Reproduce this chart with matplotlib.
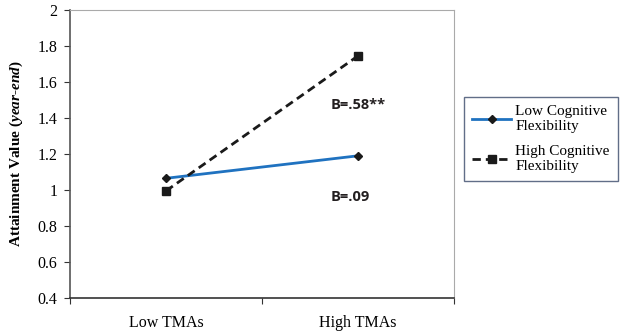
import matplotlib
matplotlib.use('Agg')
import matplotlib.pyplot as plt
from matplotlib.ticker import FuncFormatter

# data
categories = ['Low TMAs', 'High TMAs']
low_flex = [1.065, 1.19]
high_flex = [0.995, 1.745]
series_names = ['Low Cognitive\nFlexibility', 'High Cognitive\nFlexibility']
yticks = [0.4, 0.6, 0.8, 1.0, 1.2, 1.4, 1.6, 1.8, 2.0]

plt.rcParams['mathtext.fontset'] = 'custom'
plt.rcParams['mathtext.it'] = 'Liberation Serif:italic:bold'
plt.rcParams['mathtext.rm'] = 'Liberation Serif:bold'

fig = plt.figure(figsize=(6.29, 3.33), dpi=100)
ax = fig.add_axes([70/629, 35/333, 384/629, 288/333])

xpos = [0.5, 1.5]
ax.plot(xpos, low_flex, color='#1f72c0', lw=2, marker='D', ms=4.5,
        mfc='#1a1a1a', mec='#1a1a1a', label=series_names[0])
ax.plot(xpos, high_flex, color='#1a1a1a', lw=2, ls=(0, (3, 1.8)), marker='s', ms=6,
        mfc='#1a1a1a', mec='#1a1a1a', label=series_names[1])

ax.text(1.5, 1.47, 'B=.58**', fontsize=10.5, fontweight='bold', family='Open Sans',
        color='#231f20', ha='center', va='center')
ax.text(1.46, 0.96, 'B=.09', fontsize=10.5, fontweight='bold', family='Open Sans',
        color='#231f20', ha='center', va='center')

ax.set_xlim(0, 2)
ax.set_ylim(0.4, 2)
ax.set_yticks(yticks)
ax.yaxis.set_major_formatter(FuncFormatter(lambda v, p: '%g' % round(v, 1)))
ax.set_xticks([0, 1, 2])
ax.set_xticklabels([])
ax.set_xticks(xpos, minor=True)
ax.set_xticklabels(categories, minor=True)
ax.tick_params(axis='x', which='minor', length=0, pad=12)
ax.tick_params(axis='x', which='major', length=4, direction='out', color='#333333')
ax.tick_params(axis='y', length=4, direction='out', color='#333333', pad=5)
for lbl in ax.get_xticklabels(minor=True) + ax.get_yticklabels():
    lbl.set_family('Liberation Serif')
    lbl.set_fontsize(11.5)

ax.spines['left'].set_color('#555555')
ax.spines['bottom'].set_color('#333333')
ax.spines['left'].set_linewidth(1.2)
ax.spines['bottom'].set_linewidth(1.2)
ax.spines['top'].set_color('#aaaaaa')
ax.spines['right'].set_color('#aaaaaa')

ax.set_ylabel(r'Attainment Value ($\mathit{year}$-$\mathit{end}$)', family='Liberation Serif',
              fontweight='bold', fontsize=11, labelpad=9)

leg = fig.legend(loc='upper left', bbox_to_anchor=(464/629, 1 - 97/333), frameon=True,
                 fancybox=False, edgecolor='#3a4a6a', handlelength=2.5, handletextpad=0.3,
                 borderpad=0.55, labelspacing=0.75, borderaxespad=0,
                 prop={'family': 'Liberation Serif', 'size': 11})
leg.get_frame().set_linewidth(1)

fig.savefig('out.png', dpi=100)
